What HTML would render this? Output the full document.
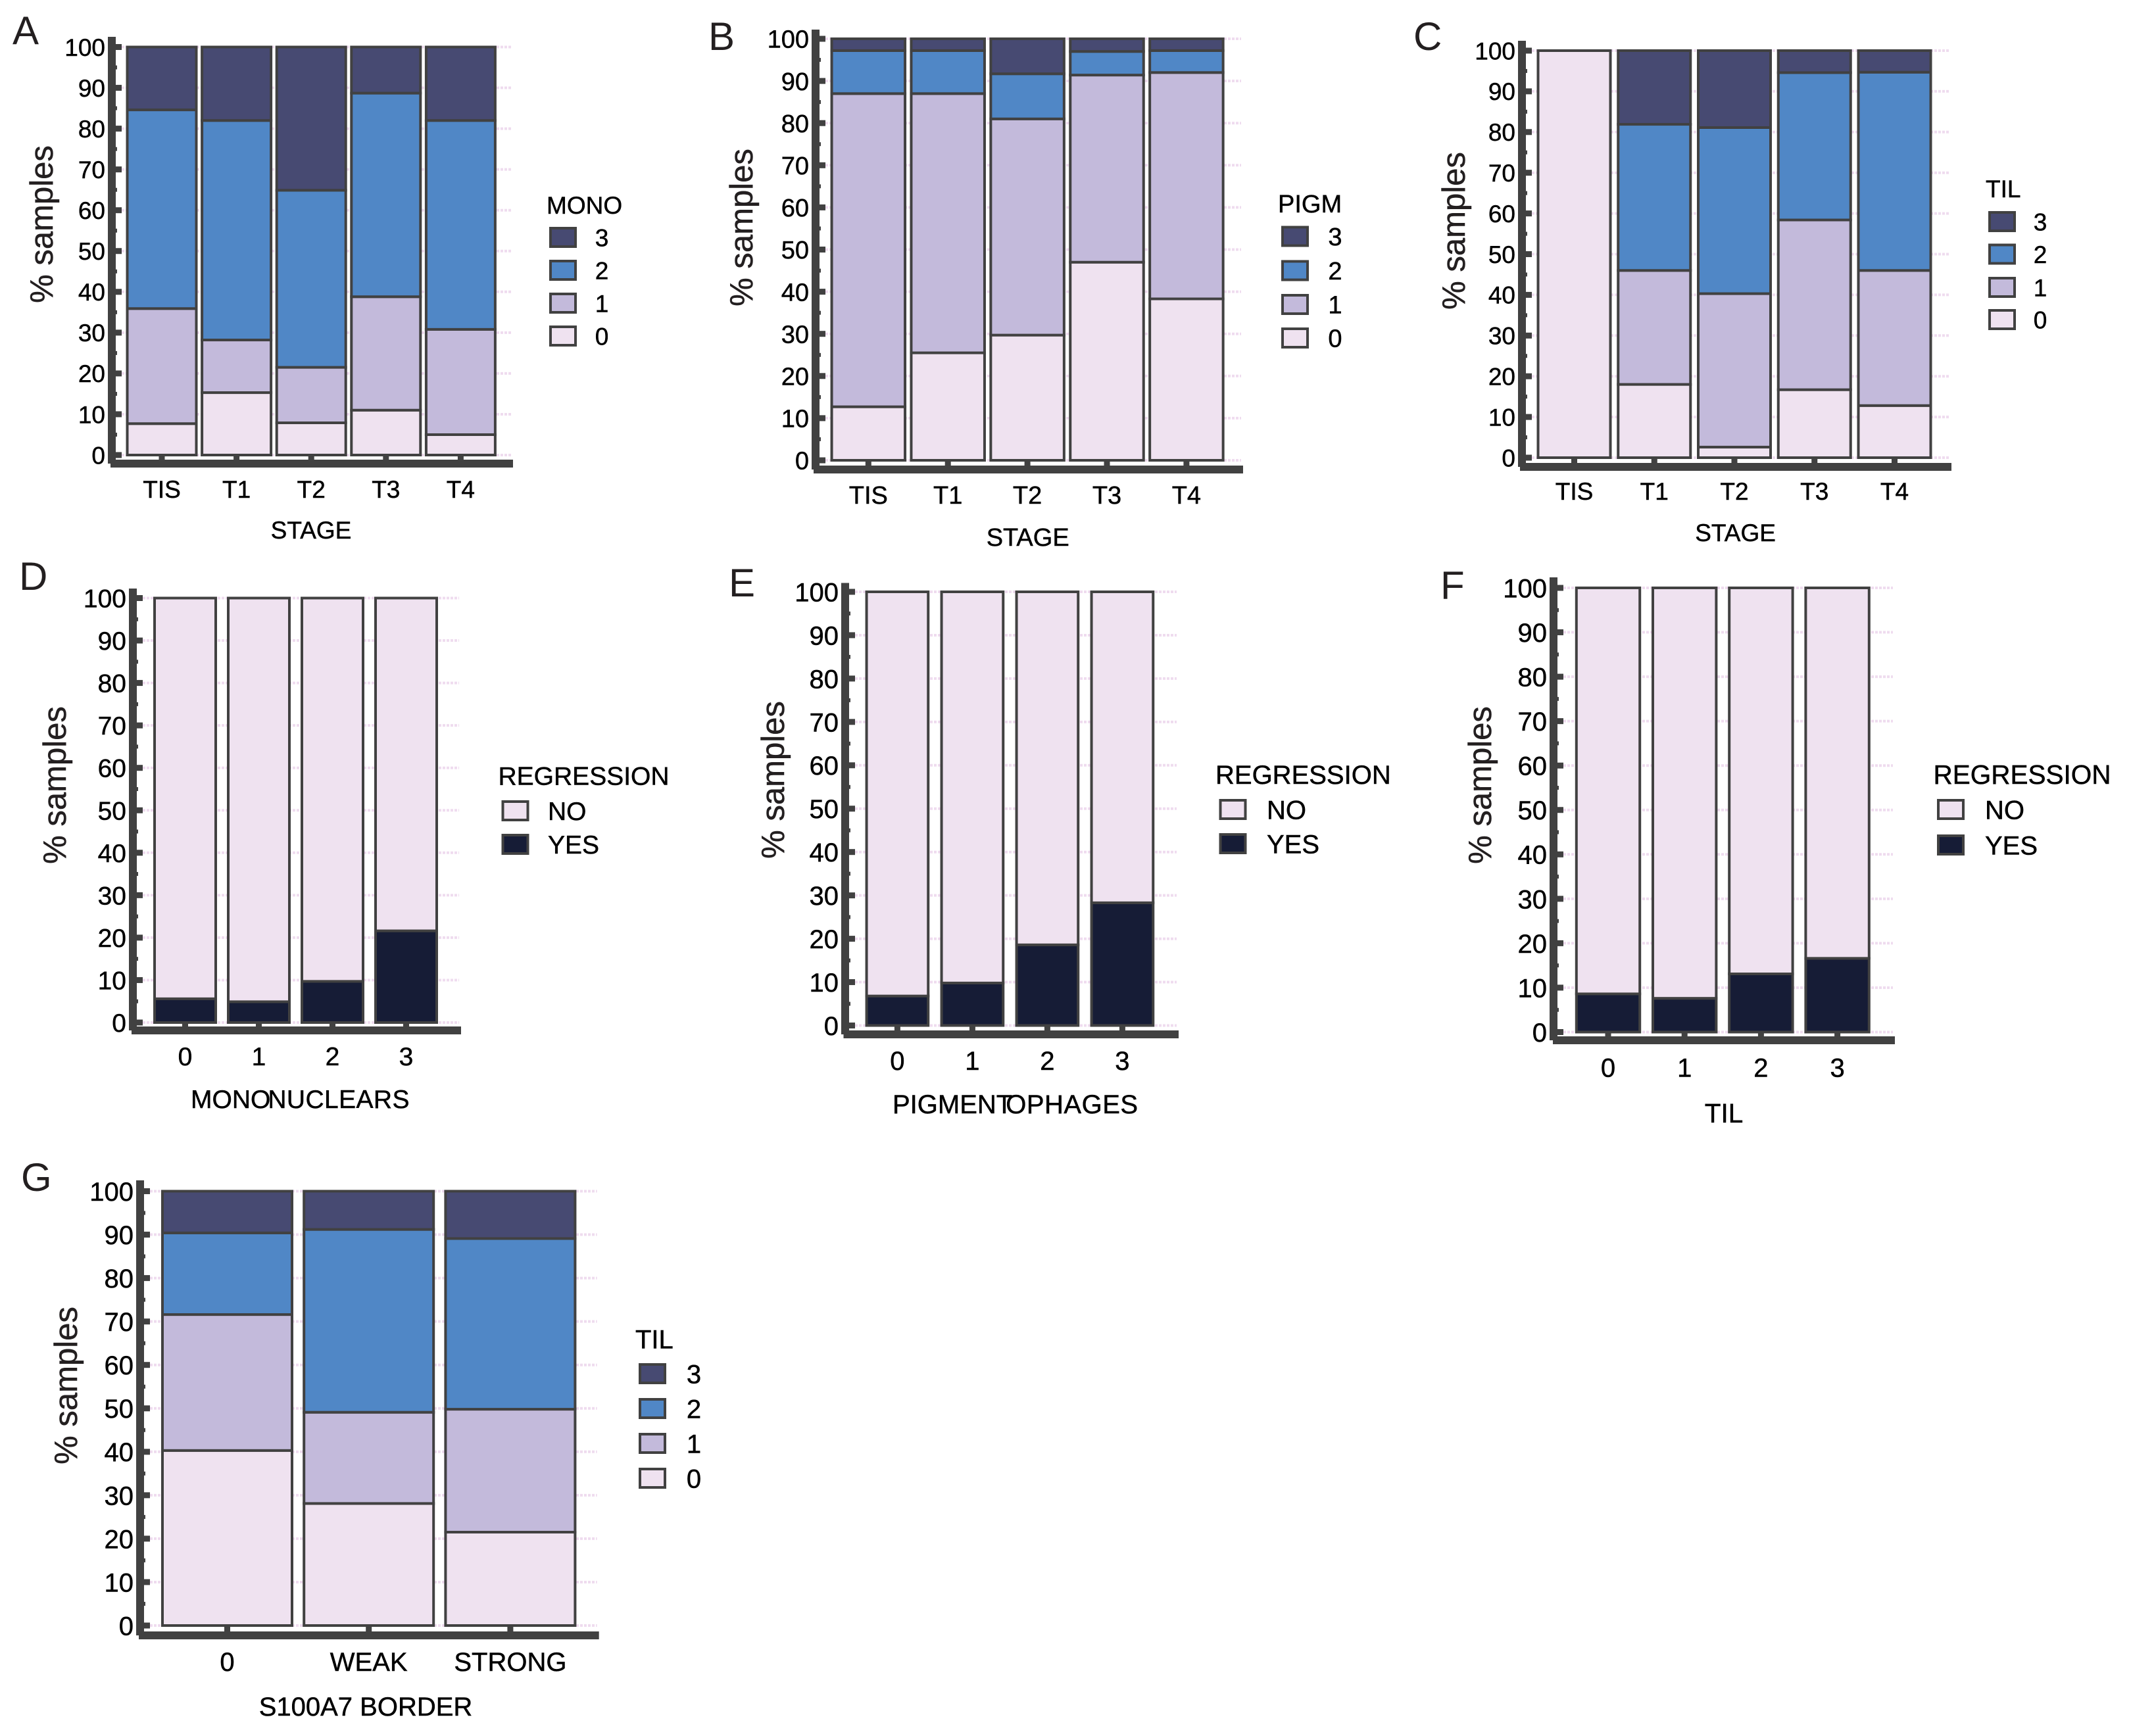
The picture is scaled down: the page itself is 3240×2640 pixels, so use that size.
<!DOCTYPE html>
<html lang="en">
<head>
<meta charset="utf-8">
<title>Stacked bar panels A to G</title>
<style>
html,body{margin:0;padding:0;background:#fff;width:3240px;height:2640px;overflow:hidden}
svg{display:block}
text{font-family:"Liberation Sans",Arial,sans-serif;fill:#000;stroke:#000;stroke-width:.5px}
</style>
</head>
<body>
<svg id="figure" width="3240" height="2640" viewBox="0 0 3240 2640">
<rect x="0" y="0" width="3240" height="2640" fill="#ffffff"/>
</svg>
<script>
const yTickValues = [0, 10, 20, 30, 40, 50, 60, 70, 80, 90, 100];
const yMinorValues = [5, 15, 25, 35, 45, 55, 65, 75, 85, 95];

const stageCategories = ['TIS', 'T1', 'T2', 'T3', 'T4'];
const levelKeys = ['3', '2', '1', '0'];
const regressionKeys = ['NO', 'YES'];
const scoreCategories = ['0', '1', '2', '3'];
const borderCategories = ['0', 'WEAK', 'STRONG'];

const monoLevel0 = [7.7, 15.3, 7.9, 11, 5];
const monoLevel1 = [28.2, 12.9, 13.6, 27.8, 25.8];
const monoLevel2 = [48.7, 53.8, 43.4, 49.9, 51.2];
const monoLevel3 = [15.4, 18, 35.1, 11.3, 18];

const pigmLevel0 = [12.7, 25.5, 29.7, 47, 38.3];
const pigmLevel1 = [74.3, 61.5, 51.3, 44.4, 53.7];
const pigmLevel2 = [10.2, 10.2, 10.7, 5.6, 5.2];
const pigmLevel3 = [2.8, 2.8, 8.3, 3, 2.8];

const tilLevel0 = [100, 18, 2.6, 16.7, 12.8];
const tilLevel1 = [0, 28, 37.7, 41.7, 33.2];
const tilLevel2 = [0, 35.9, 40.8, 36.2, 48.7];
const tilLevel3 = [0, 18.1, 18.9, 5.4, 5.3];

const monoRegYes = [5.6, 4.9, 9.7, 21.6];
const monoRegNo = [94.4, 95.1, 90.3, 78.4];
const pigmRegYes = [6.8, 9.8, 18.6, 28.3];
const pigmRegNo = [93.2, 90.2, 81.4, 71.7];
const tilRegYes = [8.6, 7.6, 13.1, 16.6];
const tilRegNo = [91.4, 92.4, 86.9, 83.4];

const borderLevel0 = [40.3, 28.1, 21.5];
const borderLevel1 = [31.3, 21, 28.3];
const borderLevel2 = [18.8, 42.1, 39.3];
const borderLevel3 = [9.6, 8.8, 10.9];

const STROKE = '#414141';
const C3 = '#474a72', C2 = '#5087c6', C1 = '#c3badb', C0 = '#efe2f0', CYES = '#161c36';
const NS = document.getElementById('figure').namespaceURI;
const root = document.getElementById('figure');

function mk(parent, tag, attrs, txt) {
  const n = document.createElementNS(NS, tag);
  for (const k in attrs) n.setAttribute(k, attrs[k]);
  if (txt !== undefined) n.textContent = txt;
  parent.appendChild(n);
  return n;
}

function drawPanel(p) {
  const yScale = v => p.y0 - (v / 100) * (p.y0 - p.y100);
  const xScale = i => p.x0 + i * p.step;

  const g = mk(root, 'g', {});
  
  

  const letter = mk(g, 'text', {x: p.letterX, y: p.letterY, 'font-size': 60, style: 'fill:#231f20;stroke:none'}, p.id);
  
  

  const gridLeft = p.yAxisX + 21;
  yTickValues.forEach(v => {
    const grid = mk(g, 'line', {x1: gridLeft, x2: p.xAxisR - 3, y1: yScale(v), y2: yScale(v), stroke: '#efdcef', 'stroke-width': 4, 'stroke-dasharray': '4 2'});
    
    
  });

  p.categories.forEach((c, i) => {
    let base = 0;
    p.series.forEach((s, k) => {
      const top = base + s[i];
      const bar = mk(g, 'rect', {
        x: xScale(i) - p.barW / 2, width: p.barW,
        y: yScale(top), height: Math.max(0, yScale(base) - yScale(top)),
        fill: p.colors[k], stroke: STROKE, 'stroke-width': 4
      });
      
      
      base = top;
    });
  });

  const yAxis = mk(g, 'rect', {x: p.yAxisX, y: p.yAxisTop, width: 12, height: p.xAxisT + 6 - p.yAxisTop, fill: STROKE});
  
  

  const xAxis = mk(g, 'rect', {x: p.xAxisL, y: p.xAxisT, width: p.xAxisR - p.xAxisL, height: 12, fill: STROKE});
  
  

  yTickValues.forEach(v => {
    const tick = mk(g, 'rect', {x: p.yAxisX + 12, y: yScale(v) - 4.5, width: 9, height: 9, fill: STROKE});
    
    
    const lab = mk(g, 'text', {x: p.yAxisX - 4, y: yScale(v) + p.font * 0.36, 'font-size': p.font, 'text-anchor': 'end'}, String(v));
    
    
  });
  yMinorValues.forEach(v => {
    const minor = mk(g, 'rect', {x: p.yAxisX + 12, y: yScale(v) - 3, width: 2, height: 6, fill: STROKE});
    
    
  });

  p.categories.forEach((c, i) => {
    const tick = mk(g, 'rect', {x: xScale(i) - 4.5, y: p.y0 + 2, width: 9, height: p.xAxisT - p.y0 - 2, fill: STROKE});
    
    
    const lab = mk(g, 'text', {x: xScale(i), y: p.xLabelY, 'font-size': p.font, 'text-anchor': 'middle'}, c);
    
    
  });

  const yTitle = mk(g, 'text', {
    transform: 'translate(' + p.yTitleX + ' ' + p.yTitleY + ') rotate(-90)',
    'font-size': 49, 'text-anchor': 'middle', style: 'fill:#231f20;stroke:#231f20'
  }, '% samples');
  
  

  const xTitle = mk(g, 'text', {x: p.xTitleX, y: p.xTitleY, 'font-size': p.titleFont, 'text-anchor': p.xTitleAnchor || 'middle'});
  
  
  p.xTitleParts.forEach(part => {
    const attrs = {};
    if (part.dx) attrs.dx = part.dx;
    if (part.ls) attrs['letter-spacing'] = part.ls;
    mk(xTitle, 'tspan', attrs, part.t);
  });

  const legendTitle = mk(g, 'text', {x: p.legX, y: p.legY, 'font-size': p.titleFont}, p.legTitle);
  
  

  p.legKeys.forEach((key, i) => {
    const top = p.swatchY[i];
    const sw = mk(g, 'rect', {x: p.swatchX + 2, y: top + 2, width: 38, height: 28, fill: p.legColors[i], stroke: STROKE, 'stroke-width': 4});
    
    
    const lab = mk(g, 'text', {
      x: p.legLabelX, y: top + 16 + p.font * 0.36, 'font-size': p.font,
      'text-anchor': p.legAnchor
    }, key);
    
    
  });
}

const panelA = {id: 'A', letterX: 19, letterY: 67, font: 37, titleFont: 37,
  categories: stageCategories, series: [monoLevel0, monoLevel1, monoLevel2, monoLevel3], colors: [C0, C1, C2, C3],
  y0: 692, y100: 71.5, x0: 246, step: 113.6, barW: 105,
  yAxisX: 164, yAxisTop: 56, xAxisL: 168, xAxisR: 780, xAxisT: 699,
  xLabelY: 757, yTitleX: 80, yTitleY: 341, xTitleX: 473, xTitleY: 819, xTitleParts: [{t: 'STAGE'}],
  legTitle: 'MONO', legX: 831, legY: 325, legKeys: levelKeys, legColors: [C3, C2, C1, C0],
  swatchX: 835, swatchY: [345, 395, 445, 495], legLabelX: 915, legAnchor: 'middle'};

const panelB = {id: 'B', letterX: 1077, letterY: 76, font: 38, titleFont: 38,
  categories: stageCategories, series: [pigmLevel0, pigmLevel1, pigmLevel2, pigmLevel3], colors: [C0, C1, C2, C3],
  y0: 700, y100: 59, x0: 1320.3, step: 120.9, barW: 111.5,
  yAxisX: 1234, yAxisTop: 45, xAxisL: 1237, xAxisR: 1890, xAxisT: 708,
  xLabelY: 766, yTitleX: 1144, yTitleY: 346, xTitleX: 1562.7, xTitleY: 830, xTitleParts: [{t: 'STAGE'}],
  legTitle: 'PIGM', legX: 1943, legY: 323, legKeys: levelKeys, legColors: [C3, C2, C1, C0],
  swatchX: 1948, swatchY: [343.5, 395.5, 447, 498], legLabelX: 2030, legAnchor: 'middle'};

const panelC = {id: 'C', letterX: 2149, letterY: 76, font: 37, titleFont: 37,
  categories: stageCategories, series: [tilLevel0, tilLevel1, tilLevel2, tilLevel3], colors: [C0, C1, C2, C3],
  y0: 696, y100: 77, x0: 2393.5, step: 121.75, barW: 110,
  yAxisX: 2308, yAxisTop: 62, xAxisL: 2311, xAxisR: 2967, xAxisT: 704,
  xLabelY: 760, yTitleX: 2227, yTitleY: 351, xTitleX: 2638.6, xTitleY: 823, xTitleParts: [{t: 'STAGE'}],
  legTitle: 'TIL', legX: 3019, legY: 300, legKeys: levelKeys, legColors: [C3, C2, C1, C0],
  swatchX: 3023, swatchY: [321, 370.5, 421, 470], legLabelX: 3102, legAnchor: 'middle'};

const panelD = {id: 'D', letterX: 29, letterY: 897, font: 39, titleFont: 39,
  categories: scoreCategories, series: [monoRegYes, monoRegNo], colors: [CYES, C0],
  y0: 1555, y100: 909.5, x0: 281.5, step: 112, barW: 93,
  yAxisX: 196, yAxisTop: 895, xAxisL: 200, xAxisR: 701, xAxisT: 1561,
  xLabelY: 1620, yTitleX: 100, yTitleY: 1194, xTitleX: 290, xTitleY: 1685, xTitleAnchor: 'start',
  xTitleParts: [{t: 'MONO'}, {t: 'NUCLEARS', dx: -4, ls: 0.4}],
  legTitle: 'REGRESSION', legX: 757.5, legY: 1193.5, legKeys: regressionKeys, legColors: [C0, CYES],
  swatchX: 762.5, swatchY: [1217, 1268], legLabelX: 833, legAnchor: 'start'};

const panelE = {id: 'E', letterX: 1108, letterY: 907, font: 40, titleFont: 40,
  categories: scoreCategories, series: [pigmRegYes, pigmRegNo], colors: [CYES, C0],
  y0: 1559.5, y100: 900, x0: 1364.4, step: 114, barW: 93.7,
  yAxisX: 1279, yAxisTop: 886.5, xAxisL: 1282.5, xAxisR: 1792, xAxisT: 1567,
  xLabelY: 1627, yTitleX: 1192, yTitleY: 1186, xTitleX: 1357, xTitleY: 1693, xTitleAnchor: 'start',
  xTitleParts: [{t: 'PIGMENT'}, {t: 'OPHAGES', dx: -10, ls: 0.5}],
  legTitle: 'REGRESSION', legX: 1848, legY: 1192, legKeys: regressionKeys, legColors: [C0, CYES],
  swatchX: 1853.5, swatchY: [1215, 1267], legLabelX: 1926, legAnchor: 'start'};

const panelF = {id: 'F', letterX: 2190, letterY: 911, font: 40, titleFont: 40.5,
  categories: scoreCategories, series: [tilRegYes, tilRegNo], colors: [CYES, C0],
  y0: 1569.5, y100: 894, x0: 2445, step: 116.2, barW: 96.4,
  yAxisX: 2356, yAxisTop: 878, xAxisL: 2361, xAxisR: 2881, xAxisT: 1576,
  xLabelY: 1637.5, yTitleX: 2267, yTitleY: 1194, xTitleX: 2621, xTitleY: 1707, xTitleParts: [{t: 'TIL'}],
  legTitle: 'REGRESSION', legX: 2939.5, legY: 1192, legKeys: regressionKeys, legColors: [C0, CYES],
  swatchX: 2945, swatchY: [1215, 1269], legLabelX: 3018, legAnchor: 'start'};

const panelG = {id: 'G', letterX: 32, letterY: 1811, font: 40, titleFont: 40,
  categories: borderCategories, series: [borderLevel0, borderLevel1, borderLevel2, borderLevel3], colors: [C0, C1, C2, C3],
  y0: 2472, y100: 1811.5, x0: 345.5, step: 215.2, barW: 197,
  yAxisX: 207, yAxisTop: 1795, xAxisL: 211, xAxisR: 910.7, xAxisT: 2481,
  xLabelY: 2541, yTitleX: 117, yTitleY: 2107, xTitleX: 556, xTitleY: 2609, xTitleParts: [{t: 'S100A7 BORDER'}],
  legTitle: 'TIL', legX: 966, legY: 2050.5, legKeys: levelKeys, legColors: [C3, C2, C1, C0],
  swatchX: 971, swatchY: [2073, 2126, 2179, 2232], legLabelX: 1055, legAnchor: 'middle'};

[panelA, panelB, panelC, panelD, panelE, panelF, panelG].forEach(drawPanel);
</script>
</body>
</html>
